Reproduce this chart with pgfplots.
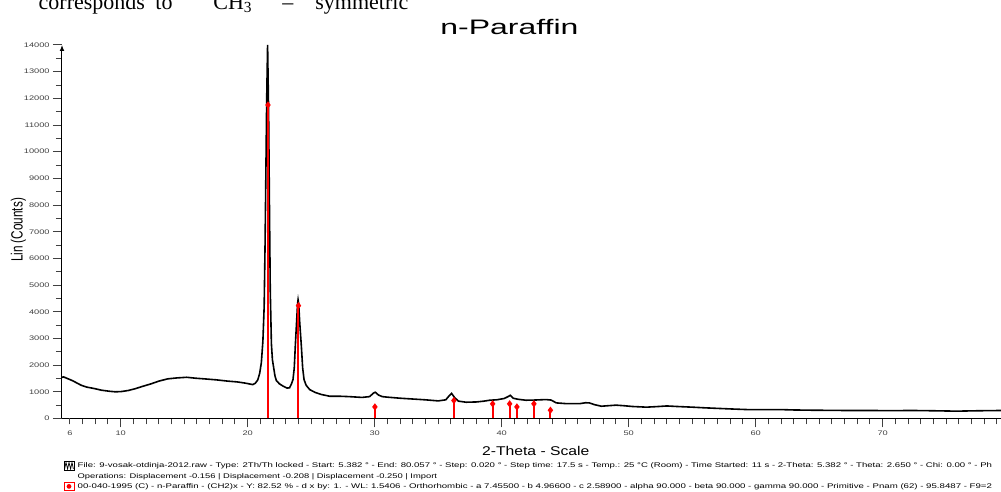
\documentclass[border=0pt]{standalone}
\usepackage{pgfplots}
\pgfplotsset{compat=1.18}
\usepackage{pgfplotstable}
\usepackage{fontspec}
\setmainfont{Liberation Sans}
\newfontfamily\tickfont[FakeStretch=1.4]{Liberation Sans}
\newfontfamily\seriffont{Liberation Serif}
\usetikzlibrary{arrows.meta}

\pgfplotstableread{
x y
5.382 1540
5.5 1560
5.8 1500
6.2 1420
6.6 1320
6.9 1245
7.3 1180
7.95 1120
8.5 1060
9.13 1020
9.6 1000
10.05 1010
10.6 1050
11.1 1110
11.7 1200
12.4 1300
13.0 1400
13.7 1485
14.4 1520
15.2 1545
15.9 1510
16.6 1485
17.5 1450
18.45 1400
19.2 1370
19.76 1330
20.1 1300
20.4 1270
20.6 1320
20.8 1450
20.95 1700
21.08 2100
21.2 2900
21.3 4200
21.37 6500
21.43 9000
21.5 12000
21.57 14000
21.65 11500
21.71 8300
21.78 4800
21.87 2800
21.95 2200
22.05 1900
22.15 1600
22.26 1420
22.5 1300
22.8 1210
23.1 1140
23.3 1150
23.45 1300
23.57 1460
23.67 1900
23.75 2700
23.85 3600
23.93 4300
23.97 4450
24.02 4300
24.1 3600
24.23 2700
24.33 1900
24.44 1460
24.6 1250
24.88 1085
25.3 980
25.8 900
26.45 835
27.2 835
28 820
29 790
29.6 820
29.9 950
30.05 985
30.3 880
30.6 820
31 800
32 760
33 730
34 700
35 660
35.6 700
35.9 870
36.06 940
36.3 780
36.6 650
37.2 610
38 620
38.6 650
39.06 685
39.6 700
40.2 750
40.5 820
40.68 870
40.9 760
41.3 720
41.9 685
42.5 690
43 700
43.5 710
43.9 690
44.3 585
45 560
45.8 555
46.2 560
46.6 590
46.9 585
47.3 520
47.85 460
48.4 480
49.0 500
49.6 480
50.3 450
51.4 425
52.2 445
53.0 470
53.8 450
55.0 425
56 400
57.2 375
58.2 355
59.3 335
60.5 330
61.9 335
63 320
64.5 310
66 305
67.1 300
69 300
70.5 295
72.4 300
74 290
75.8 275
77.5 290
79.3 300
}\xrd

\pgfplotstableread{
x y
21.6 11750
24.0 4230
30.02 435
36.24 675
39.29 550
40.63 550
41.2 435
42.54 550
43.84 310
}\sticks

\begin{document}
\begin{tikzpicture}
\begin{axis}[
  at={(31pt,36.75pt)}, anchor=south west, scale only axis,
  width=474.2pt, height=186.75pt,
  xmin=5.382, xmax=80.057, ymin=0, ymax=14000,
  axis x line*=bottom, axis y line*=left,
  x axis line style={-, line width=0.5pt},
  y axis line style={-{Latex[length=3pt,width=2.4pt]}, line width=0.5pt},
  tick align=outside,
  scaled ticks=false,
  xtick={10,20,30,40,50,60,70},
  extra x ticks={6}, extra x tick style={major tick length=3pt, xticklabel style={yshift=-1.5pt}},
  minor xtick={6,...,80},
  ytick={0,1000,...,14000}, minor ytick={500,1500,...,13500},
  major tick length=4.5pt, minor tick length=3pt,
  every tick/.style={black!75, line width=0.5pt},
  /pgf/number format/assume math mode=true,
  /pgf/number format/1000 sep={},
  ticklabel style={font=\tickfont\fontsize{3.3pt}{4pt}\selectfont, text=black!75, inner sep=0pt},
  yticklabel style={anchor=east, xshift=-1.5pt},
  xticklabel style={anchor=north, yshift=-1.5pt},
  clip=false,
]
\addplot[black, line width=0.8pt] table[x=x, y=y] {\xrd};
\addplot[red, line width=1pt, ycomb, mark=diamond*, mark size=1pt, mark options={red}] table[x=x, y=y] {\sticks};
\end{axis}

% top text (cut off at the top edge, as in the reference)
\begin{scope}[every node/.style={inner sep=0pt, anchor=base west, font=\seriffont\fontsize{11pt}{13pt}\selectfont}]
\node at (19.15pt,241.35pt) {corresponds};
\node at (77.5pt,241.35pt) {to};
\node at (106.5pt,241.35pt) {CH\textsubscript{3}};
\node at (141pt,241.35pt) {–};
\node at (157.5pt,241.35pt) {symmetric};
\end{scope}

\node[inner sep=0pt, anchor=base west] at (220pt,228.85pt) {\resizebox{69pt}{7.6pt}{n-Paraffin}};
\node[inner sep=0pt, anchor=base west] at (240.85pt,18.15pt) {\resizebox{53.65pt}{4.6pt}{2-Theta - Scale}};
\node[inner sep=0pt, anchor=base, rotate=90] at (11.35pt,131pt) {\resizebox{32pt}{5.9pt}{Lin (Counts)}};

\node[inner sep=0pt, anchor=base west] at (38.65pt,12pt) {\resizebox{457.2pt}{2.45pt}{File: 9-vosak-otdinja-2012.raw - Type: 2Th/Th locked - Start: 5.382 ° - End: 80.057 ° - Step: 0.020 ° - Step time: 17.5 s - Temp.: 25 °C (Room) - Time Started: 11 s - 2-Theta: 5.382 ° - Theta: 2.650 ° - Chi: 0.00 ° - Ph}};
\node[inner sep=0pt, anchor=base west] at (38.65pt,6.65pt) {\resizebox{179.7pt}{2.45pt}{Operations: Displacement -0.156 | Displacement -0.208 | Displacement -0.250 | Import}};
\node[inner sep=0pt, anchor=base west] at (38.65pt,1.5pt) {\resizebox{457.2pt}{2.45pt}{00-040-1995 (C) - n-Paraffin - (CH2)x - Y: 82.52 \% - d x by: 1. - WL: 1.5406 - Orthorhombic - a 7.45500 - b 4.96600 - c 2.58900 - alpha 90.000 - beta 90.000 - gamma 90.000 - Primitive - Pnam (62) - 95.8487 - F9=2}};

% legend icons
\draw[black, line width=0.4pt] (32pt,11pt) rectangle (37pt,15.5pt);
\draw[black, line width=0.35pt] (32.3pt,11.5pt) -- (33pt,14.8pt) -- (33.8pt,11.5pt) -- (34.5pt,14.8pt) -- (35.3pt,11.5pt) -- (36pt,14.8pt) -- (36.7pt,11.5pt);
\draw[red, line width=0.4pt] (32pt,0.6pt) rectangle (37pt,5pt);
\fill[red] (34.5pt,2.8pt) circle (1.2pt);

\pgfresetboundingbox
\useasboundingbox (0,0) rectangle (500.5pt,246pt);
\end{tikzpicture}
\end{document}
